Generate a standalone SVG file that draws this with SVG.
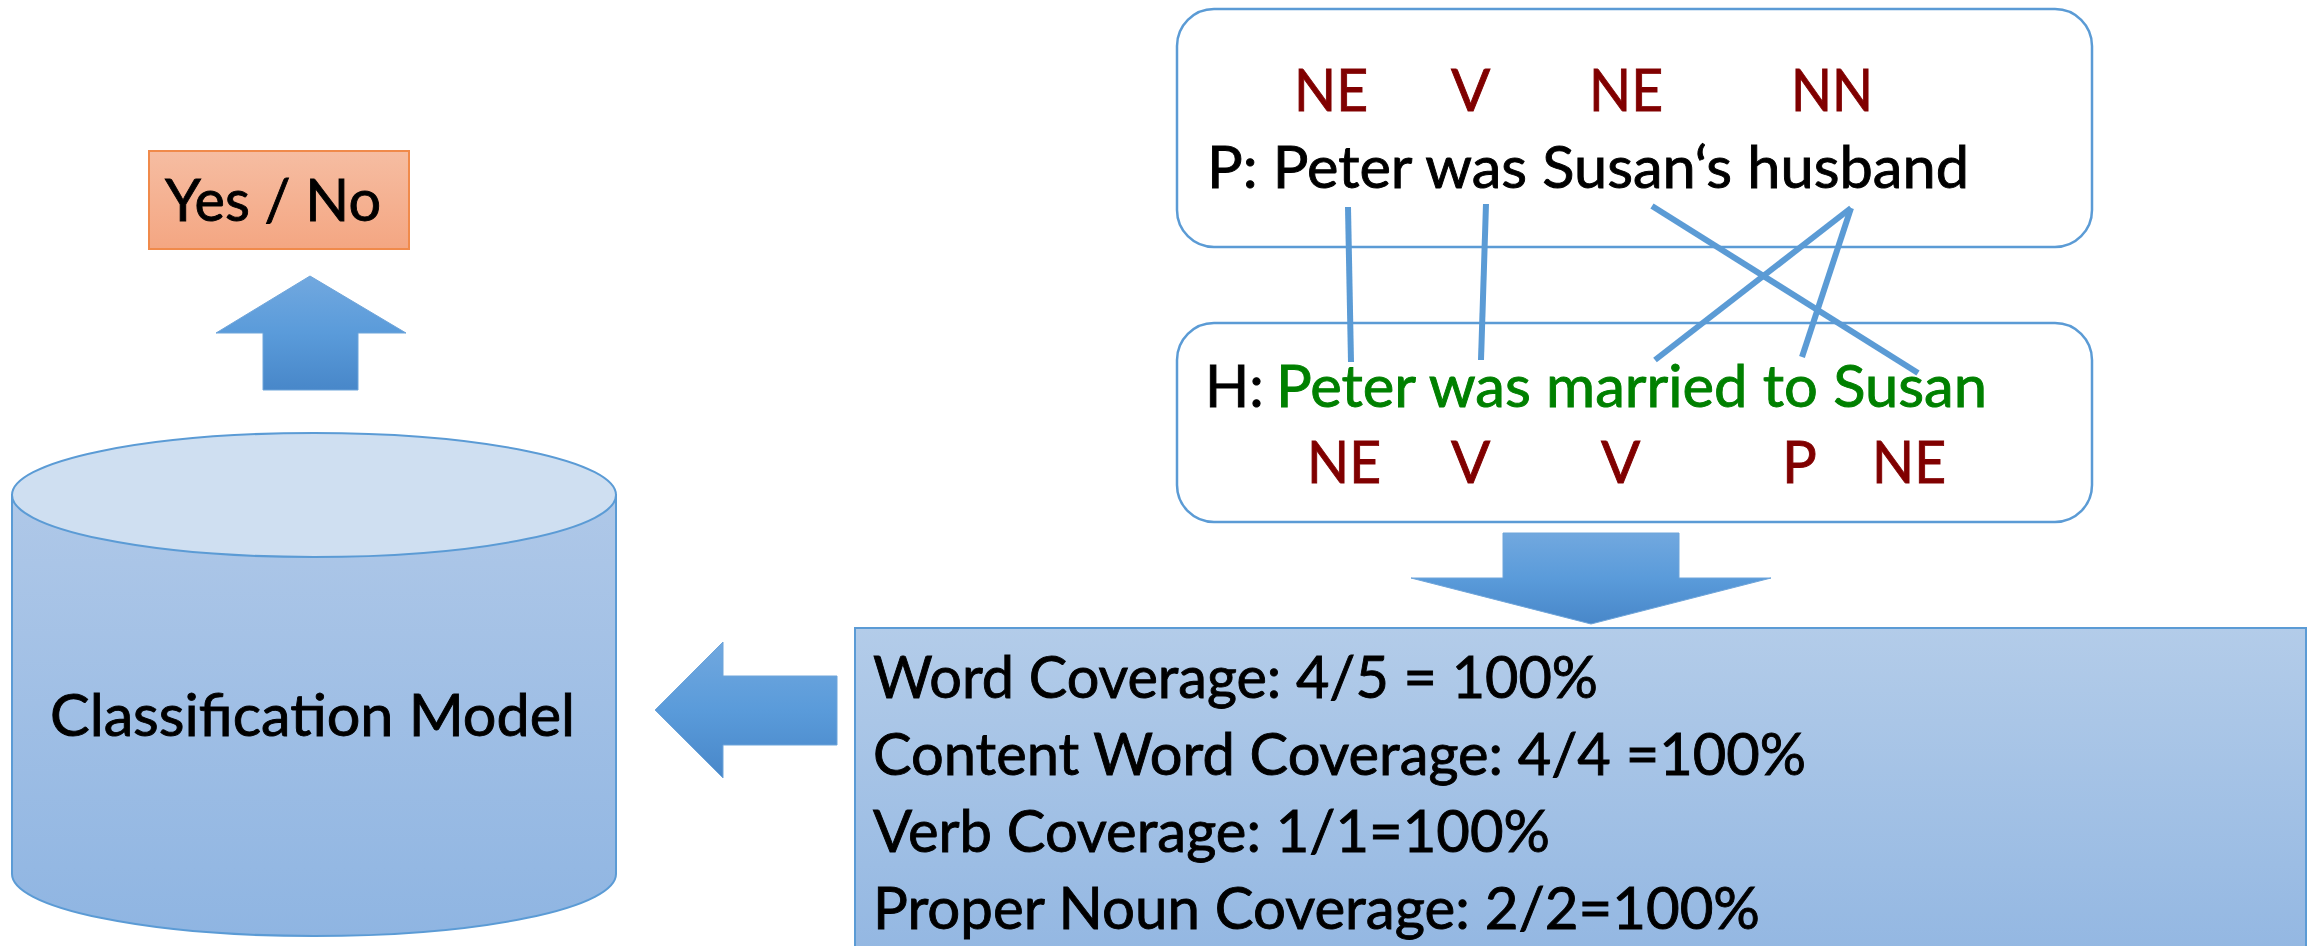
<svg xmlns="http://www.w3.org/2000/svg" width="2320" height="946" viewBox="0 0 2320 946">
<defs>
<linearGradient id="gArrow" x1="0" y1="0" x2="0" y2="1"><stop offset="0" stop-color="#71A8DF"/><stop offset="0.5" stop-color="#5A9BDA"/><stop offset="1" stop-color="#4887C9"/></linearGradient>
<linearGradient id="gStats" x1="0" y1="0" x2="0" y2="1"><stop offset="0" stop-color="#B3CCE9"/><stop offset="1" stop-color="#93B7E2"/></linearGradient>
<linearGradient id="gCyl" x1="0" y1="0" x2="0" y2="1"><stop offset="0" stop-color="#AFC8E8"/><stop offset="1" stop-color="#8FB5E2"/></linearGradient>
<linearGradient id="gYes" x1="0" y1="0" x2="0" y2="1"><stop offset="0" stop-color="#F6BDA2"/><stop offset="1" stop-color="#F4A682"/></linearGradient>
<style>
.t{font-family:Lato,"Liberation Sans",sans-serif;font-size:58px;fill:#000;stroke:#000;stroke-width:0.9}
.tag{font-family:Lato,"Liberation Sans",sans-serif;font-size:58px;fill:#800000;stroke:#800000;stroke-width:0.9}
.grn{fill:#008000;stroke:#008000}
.box{fill:#fff;stroke:#5B9BD5;stroke-width:2.5}
.conn{stroke:#5B9BD5;stroke-width:6;fill:none}
.arrow{fill:url(#gArrow);stroke:#6FA5DA;stroke-width:1}
</style>
</defs>

<g id="premise">
<rect class="box" x="1177" y="9" width="915" height="238" rx="37"/>
<text class="tag" x="1294" y="111" textLength="74" lengthAdjust="spacingAndGlyphs">NE</text>
<text class="tag" x="1451" y="111">V</text>
<text class="tag" x="1589" y="111" textLength="74" lengthAdjust="spacingAndGlyphs">NE</text>
<text class="tag" x="1791" y="111" textLength="82" lengthAdjust="spacingAndGlyphs">NN</text>
<text class="t" x="1207" y="188" textLength="762" lengthAdjust="spacingAndGlyphs">P: Peter was Susan‘s husband</text>
</g>

<g id="hypothesis">
<rect class="box" x="1177" y="323" width="915" height="199" rx="37"/>
<text class="t" x="1205" y="407">H:</text>
<text class="t grn" x="1276" y="407" textLength="711" lengthAdjust="spacingAndGlyphs">Peter was married to Susan</text>
<text class="tag" x="1307" y="483" textLength="74" lengthAdjust="spacingAndGlyphs">NE</text>
<text class="tag" x="1451" y="483">V</text>
<text class="tag" x="1601" y="483">V</text>
<text class="tag" x="1782" y="483">P</text>
<text class="tag" x="1872" y="483" textLength="74" lengthAdjust="spacingAndGlyphs">NE</text>
</g>

<g id="connectors">
<line class="conn" x1="1348" y1="207" x2="1351" y2="362"/>
<line class="conn" x1="1486" y1="204" x2="1481" y2="360"/>
<line class="conn" x1="1652" y1="206" x2="1918" y2="373"/>
<line class="conn" x1="1851" y1="208" x2="1655" y2="360"/>
<line class="conn" x1="1851" y1="208" x2="1802" y2="357"/>
</g>

<g id="arrow-down">
<polygon class="arrow" points="1503,533 1679,533 1679,578 1771,578 1591,624 1411,578 1503,578"/>
</g>

<g id="stats">
<rect x="855" y="628" width="1451" height="330" fill="url(#gStats)" stroke="#5B9BD5" stroke-width="2"/>
<text class="t" x="873" y="698" textLength="725" lengthAdjust="spacingAndGlyphs">Word Coverage: 4/5 = 100%</text>
<text class="t" x="873" y="775" textLength="933" lengthAdjust="spacingAndGlyphs">Content Word Coverage: 4/4 =100%</text>
<text class="t" x="873" y="852" textLength="677" lengthAdjust="spacingAndGlyphs">Verb Coverage: 1/1=100%</text>
<text class="t" x="873" y="929" textLength="887" lengthAdjust="spacingAndGlyphs">Proper Noun Coverage: 2/2=100%</text>
</g>

<g id="arrow-left">
<polygon class="arrow" points="837,676 837,745 723,745 723,778 655,710 723,642 723,676"/>
</g>

<g id="model">
<path d="M12,495 L12,874 A302,62 0 0 0 616,874 L616,495 Z" fill="url(#gCyl)" stroke="#5B9BD5" stroke-width="2"/>
<ellipse cx="314" cy="495" rx="302" ry="62" fill="#CFDFF1" stroke="#5B9BD5" stroke-width="2"/>
<text class="t" x="50" y="736" textLength="525" lengthAdjust="spacingAndGlyphs">Classification Model</text>
</g>

<g id="arrow-up">
<polygon class="arrow" points="310,276 406,333 358,333 358,390 263,390 263,333 216,333"/>
</g>

<g id="result">
<rect x="149" y="151" width="260" height="98" fill="url(#gYes)" stroke="#F08A4B" stroke-width="2"/>
<text class="t" x="165" y="221" textLength="216" lengthAdjust="spacingAndGlyphs">Yes / No</text>
</g>
</svg>
